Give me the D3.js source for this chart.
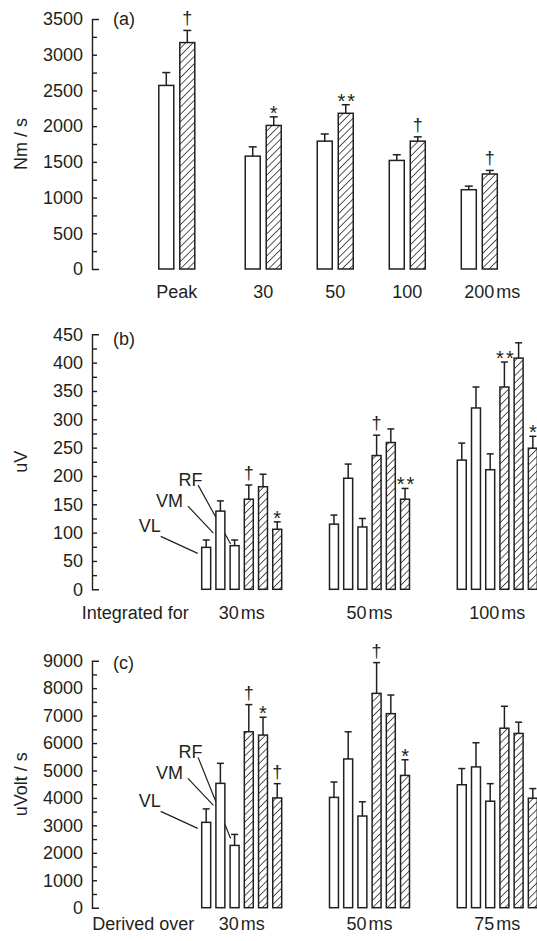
<!DOCTYPE html>
<html><head><meta charset="utf-8">
<script src="https://cdn.jsdelivr.net/npm/d3@7"></script>
<style>
html,body{margin:0;padding:0;background:#fff;}
svg{display:block;}
text{font-family:"Liberation Sans", Arial, sans-serif; fill:#231f20;}
</style></head><body>
<svg id="chart" width="537" height="941"></svg>
<script>
// ---------- Panel (a): power (Nm/s) ----------
const aCategories = ["Peak", "30", "50", "100", "200"];
const aPre = [2570, 1580, 1790, 1520, 1110];
const aPreErr = [180, 130, 100, 80, 50];
const aPost = [3170, 2010, 2180, 1790, 1330];
const aPostErr = [170, 120, 120, 60, 50];
const aMarks = ["†", "*", "**", "†", "†"];
const aTicks = [0, 500, 1000, 1500, 2000, 2500, 3000, 3500];

// ---------- Panel (b): integrated EMG (uV) ----------
const muscles = ["VL", "VM", "RF", "VL", "VM", "RF"];
const hatched = [false, false, false, true, true, true];
const bGroups = ["30", "50", "100"];
const bValues = [[74, 138, 77, 159, 181, 106], [115, 196, 110, 236, 259, 159], [228, 320, 211, 357, 408, 249]];
const bErr = [[13, 18, 10, 25, 22, 13], [16, 25, 15, 36, 24, 19], [30, 37, 28, 44, 27, 21]];
const bMarks = [["", "", "", "†", "", "*"], ["", "", "", "†", "", "**"], ["", "", "", "**", "", "*"]];
const bTicks = [0, 50, 100, 150, 200, 250, 300, 350, 400, 450];

// ---------- Panel (c): rate of EMG rise (uVolt/s) ----------
const cGroups = ["30", "50", "75"];
const cValues = [[3110, 4530, 2270, 6410, 6290, 4000], [4020, 5420, 3340, 7810, 7070, 4820], [4480, 5130, 3880, 6540, 6350, 3990]];
const cErr = [[490, 730, 400, 990, 650, 520], [560, 990, 520, 1120, 680, 570], [590, 880, 640, 800, 410, 350]];
const cMarks = [["", "", "", "†", "*", "†"], ["", "", "", "†", "", "*"], ["", "", "", "", "", ""]];
const cTicks = [0, 1000, 2000, 3000, 4000, 5000, 6000, 7000, 8000, 9000];

const INK = "#231f20";
const svg = d3.select("#chart");
const axisX = 92;

const defs = svg.append("defs");
defs.append("pattern").attr("id", "hatch").attr("patternUnits", "userSpaceOnUse")
  .attr("width", 5.2).attr("height", 5.2).attr("patternTransform", "rotate(45)")
  .call(p => {
    p.append("rect").attr("width", 5.2).attr("height", 5.2).attr("fill", "#fff");
    p.append("line").attr("x1", 0).attr("y1", 0).attr("x2", 0).attr("y2", 5.2)
      .attr("stroke", INK).attr("stroke-width", 1.5);
  });

function drawAxis(g, y, ticks, minorStep, label, panelTag, tagBaseline) {
  const major = d3.axisLeft(y).tickValues(ticks).tickSizeInner(-5).tickSizeOuter(-7).tickPadding(9)
    .tickFormat(d3.format("d"));
  const ax = g.append("g").attr("transform", `translate(${axisX},0)`).call(major);
  ax.selectAll("path.domain").attr("stroke", INK).attr("stroke-width", 1.4);
  ax.selectAll(".tick line").attr("stroke", INK).attr("stroke-width", 1.4);
  ax.selectAll(".tick text").attr("font-size", 18).attr("font-family", "Liberation Sans, Arial, sans-serif").attr("fill", INK);
  const minorVals = d3.range(ticks[0] + minorStep, ticks[ticks.length - 1], minorStep * 2);
  const minor = d3.axisLeft(y).tickValues(minorVals).tickSizeInner(-5).tickSizeOuter(0).tickFormat("");
  const mx = g.append("g").attr("transform", `translate(${axisX},0)`).call(minor);
  mx.select("path.domain").remove();
  mx.selectAll(".tick line").attr("stroke", INK).attr("stroke-width", 1.4);
  ax.selectAll(".tick").filter(d => d === ticks[0] || d === ticks[ticks.length - 1]).select("line").remove();

  const [r0, r1] = y.range();
  g.append("text").attr("transform", `translate(27,${(r0 + r1) / 2}) rotate(-90)`)
    .attr("text-anchor", "middle").attr("font-size", 18).text(label);
  g.append("text").attr("x", axisX + 21).attr("y", tagBaseline).attr("font-size", 18).text(panelTag);
}

function errorBar(g, cx, yTop, yErr, half) {
  g.append("line").attr("x1", cx).attr("x2", cx).attr("y1", yTop).attr("y2", yErr)
    .attr("stroke", INK).attr("stroke-width", 1.5);
  g.append("line").attr("x1", cx - half).attr("x2", cx + half).attr("y1", yErr).attr("y2", yErr)
    .attr("stroke", INK).attr("stroke-width", 1.5);
}

function mark(g, cx, yErr, m) {
  if (!m) return;
  const isStar = m.includes("*");
  const t = g.append("text").attr("x", cx + (m === "**" ? 1.5 : 0)).attr("text-anchor", "middle")
    .attr("fill", "#3a3a3a");
  if (isStar) {
    t.attr("font-size", 20).attr("y", yErr + 3).attr("letter-spacing", m === "**" ? 2 : 0).text(m);
  } else {
    t.attr("font-size", 18).attr("y", yErr - 6).text(m);
  }
}

// ---------- Panel (a) ----------
{
  const g = svg.append("g");
  const y = d3.scaleLinear().domain([0, 3500]).range([269, 19]);
  const slot = i => (i === 0 ? -0.2 : i);
  const x = d3.scaleLinear().domain([0, 4]).range([191.2, 479.3]);
  drawAxis(g, y, aTicks, 250, "Nm / s", "(a)", 25);
  const bw = 15, gap = 6;
  aCategories.forEach((c, i) => {
    const cx = x(slot(i));
    const series = [
      { v: aPre[i], e: aPreErr[i], x0: cx - gap / 2 - bw, fill: "#fff", m: "" },
      { v: aPost[i], e: aPostErr[i], x0: cx + gap / 2, fill: "url(#hatch)", m: aMarks[i] }
    ];
    series.forEach(s => {
      g.append("rect").attr("x", s.x0).attr("y", y(s.v)).attr("width", bw).attr("height", y(0) - y(s.v))
        .attr("fill", s.fill).attr("stroke", INK).attr("stroke-width", 1.5);
      errorBar(g, s.x0 + bw / 2, y(s.v), y(s.v + s.e), 4);
      mark(g, s.x0 + bw / 2, y(s.v + s.e), s.m);
    });
    const t = g.append("text").attr("x", cx).attr("y", 298).attr("text-anchor", "middle").attr("font-size", 18).text(c);
    if (i === aCategories.length - 1) {
      const w = t.node().getComputedTextLength();
      g.append("text").attr("x", cx + w / 2 + 2).attr("y", 298).attr("font-size", 18).text("ms");
    }
  });
}

// ---------- Grouped EMG panels ----------
function groupedPanel(cfg) {
  const g = svg.append("g");
  const y = d3.scaleLinear().domain([0, cfg.max]).range(cfg.yRange);
  drawAxis(g, y, cfg.ticks, cfg.minor, cfg.label, cfg.tag, cfg.tagBaseline);
  const gx = d3.scaleBand().domain(cfg.groups).range([201.7, 537.3]).paddingInner(0.374).paddingOuter(0);
  const ix = d3.scaleBand().domain(d3.range(muscles.length)).range([0, gx.bandwidth()]).paddingInner(0.37).paddingOuter(0);
  const bw = ix.bandwidth();

  const g0 = cfg.groups[0];
  const bx = k => gx(g0) + ix(k);
  const top = k => y(cfg.values[0][k]);
  const etop = k => y(cfg.values[0][k] + cfg.err[0][k]);
  const labels = [
    { k: 0, tx: bx(0) - 41, ty: top(0) - 15 },
    { k: 1, tx: bx(1) - 33, ty: top(1) - 4 },
    { k: 2, tx: bx(2) - 27.5, ty: top(1) - 25 }
  ];
  labels.forEach(l => {
    g.append("text").attr("x", l.tx).attr("y", l.ty).attr("text-anchor", "end").attr("font-size", 18).text(muscles[l.k]);
    let x1, y1, x2, y2;
    if (l.k === 0) { x1 = l.tx; y1 = l.ty + 4; x2 = bx(0) - 4; y2 = top(0) + 6; }
    else if (l.k === 1) { x1 = l.tx + 5; y1 = l.ty - 1; x2 = bx(1) - 2.5; y2 = top(1) + 22; }
    else { x1 = l.tx - 4.5; y1 = l.ty - 1; x2 = bx(2) + 0.5; y2 = etop(2) + 4; }
    g.append("line").attr("x1", x1).attr("y1", y1).attr("x2", x2).attr("y2", y2)
      .attr("stroke", INK).attr("stroke-width", 1.2);
  });

  cfg.groups.forEach((grp, gi) => {
    muscles.forEach((m, k) => {
      const v = cfg.values[gi][k], e = cfg.err[gi][k];
      const x0 = gx(grp) + ix(k);
      g.append("rect").attr("x", x0).attr("y", y(v)).attr("width", bw).attr("height", y(0) - y(v))
        .attr("fill", hatched[k] ? "url(#hatch)" : "#fff").attr("stroke", INK).attr("stroke-width", 1.5);
      errorBar(g, x0 + bw / 2, y(v), y(v + e), 3.5);
      mark(g, x0 + bw / 2, y(v + e), cfg.marks[gi][k]);
    });
    const t = g.append("text").attr("x", gx(grp) + gx.bandwidth() / 2).attr("y", cfg.labelBaseline)
      .attr("text-anchor", "middle").attr("font-size", 18);
    t.append("tspan").text(grp);
    t.append("tspan").attr("dx", 2).text("ms");
  });
  g.append("text").attr("x", cfg.leadX).attr("y", cfg.labelBaseline).attr("font-size", 18).text(cfg.lead);
}

groupedPanel({
  groups: bGroups, values: bValues, err: bErr, marks: bMarks, ticks: bTicks, minor: 25, max: 450,
  yRange: [589.3, 334.3], label: "uV", tag: "(b)", tagBaseline: 345,
  lead: "Integrated for", leadX: 81.7, labelBaseline: 619
});
groupedPanel({
  groups: cGroups, values: cValues, err: cErr, marks: cMarks, ticks: cTicks, minor: 500, max: 9000,
  yRange: [907.7, 660.7], label: "uVolt / s", tag: "(c)", tagBaseline: 668.5,
  lead: "Derived over", leadX: 92.3, labelBaseline: 930
});
</script>
</body></html>
